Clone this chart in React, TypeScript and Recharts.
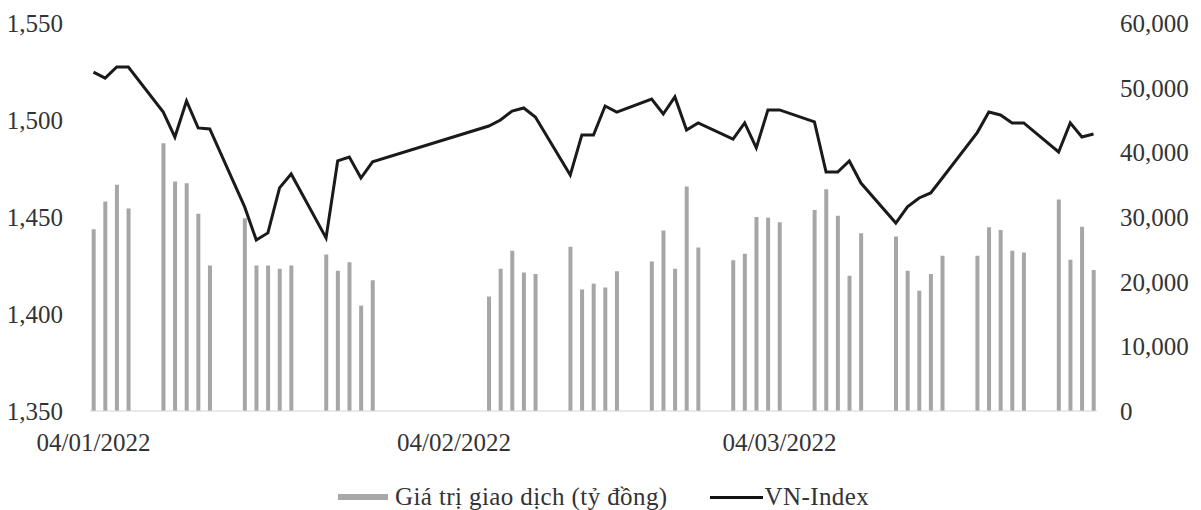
import { Bar, ComposedChart, Legend, Line, XAxis, YAxis } from 'recharts';

// trading days, Q1 2022
const dates = [
  '2022-01-04', '2022-01-05', '2022-01-06', '2022-01-07',
  '2022-01-10', '2022-01-11', '2022-01-12', '2022-01-13', '2022-01-14',
  '2022-01-17', '2022-01-18', '2022-01-19', '2022-01-20', '2022-01-21',
  '2022-01-24', '2022-01-25', '2022-01-26', '2022-01-27', '2022-01-28',
  '2022-02-07', '2022-02-08', '2022-02-09', '2022-02-10', '2022-02-11',
  '2022-02-14', '2022-02-15', '2022-02-16', '2022-02-17', '2022-02-18',
  '2022-02-21', '2022-02-22', '2022-02-23', '2022-02-24', '2022-02-25',
  '2022-02-28', '2022-03-01', '2022-03-02', '2022-03-03', '2022-03-04',
  '2022-03-07', '2022-03-08', '2022-03-09', '2022-03-10', '2022-03-11',
  '2022-03-14', '2022-03-15', '2022-03-16', '2022-03-17', '2022-03-18',
  '2022-03-21', '2022-03-22', '2022-03-23', '2022-03-24', '2022-03-25',
  '2022-03-28', '2022-03-29', '2022-03-30', '2022-03-31',
];

// Giá trị giao dịch (tỷ đồng)
const tradingValue = [
  28100, 32400, 35000, 31300,
  41400, 35500, 35200, 30500, 22500,
  29800, 22500, 22500, 22000, 22500,
  24200, 21700, 23000, 16300, 20200,
  17700, 22000, 24800, 21400, 21200,
  25400, 18800, 19700, 19100, 21600,
  23100, 27900, 22000, 34700, 25300,
  23300, 24300, 30000, 29900, 29200,
  31100, 34300, 30200, 20900, 27500,
  27000, 21700, 18600, 21200, 24000,
  24000, 28400, 28000, 24800, 24500,
  32700, 23400, 28500, 21800,
];

// VN-Index
const vnIndex = [
  1524.7, 1521.6, 1527.3, 1527.3,
  1504.1, 1491.2, 1509.8, 1495.9, 1495.4,
  1455.2, 1438.1, 1441.8, 1465.0, 1472.2,
  1439.2, 1478.9, 1480.9, 1470.1, 1478.4,
  1496.9, 1500.0, 1504.6, 1506.2, 1501.5,
  1471.6, 1492.3, 1492.3, 1507.2, 1504.1,
  1510.8, 1503.1, 1511.9, 1494.8, 1498.5,
  1490.2, 1498.5, 1485.6, 1505.2, 1505.2,
  1499.0, 1473.2, 1473.2, 1478.9, 1467.5,
  1446.9, 1455.2, 1459.8, 1462.4, 1470.1,
  1493.5, 1504.1, 1502.6, 1498.5, 1498.5,
  1483.5, 1498.5, 1491.2, 1492.8,
];

const xTickDates = ['2022-01-04', '2022-02-04', '2022-03-04'];
const leftTicks = [1350, 1400, 1450, 1500, 1550];
const rightTicks = [0, 10000, 20000, 30000, 40000, 50000, 60000];

const START = Date.parse('2022-01-04');
const dayOf = (s: string) => Math.round((Date.parse(s) - START) / 86400000);
const fmtDate = (s: string) => {
  const [y, m, d] = s.split('-');
  return `${d}/${m}/${y}`;
};
const fmtNum = (v: number) => v.toLocaleString('en-US');

const data = dates.map((d, i) => ({
  day: dayOf(d),
  value: tradingValue[i],
  index: vnIndex[i],
}));
const xTicks = xTickDates.map(dayOf);
const tickLabel: Record<number, string> = {};
xTickDates.forEach((d) => (tickLabel[dayOf(d)] = fmtDate(d)));

const FONT = '"Liberation Serif", "Times New Roman", serif';
const tickStyle = { fontSize: 25, fill: '#333', fontFamily: FONT };

function LegendContent() {
  return (
    <div
      style={{
        height: 40,
        display: 'flex',
        alignItems: 'center',
        paddingLeft: 338,
        paddingTop: 14,
        boxSizing: 'border-box',
        fontFamily: FONT,
        fontSize: 25,
        letterSpacing: 0.4,
        color: '#333',
        whiteSpace: 'nowrap',
      }}
    >
      <span style={{ width: 50, height: 6, background: '#a8a8a8', marginRight: 7 }} />
      <span>Giá trị giao dịch (tỷ đồng)</span>
      <span style={{ width: 53, height: 3, background: '#111', marginLeft: 42, marginRight: 2 }} />
      <span>VN-Index</span>
    </div>
  );
}

export default function App() {
  return (
    <div style={{ position: 'absolute', left: 0, top: 0 }}>
      <ComposedChart width={1201} height={510} data={data} margin={{ top: 23, right: 0, bottom: 0, left: 0 }}>
        <XAxis
          dataKey="day"
          type="number"
          domain={[-0.3, 86.3]}
          ticks={xTicks}
          interval={0}
          tickFormatter={(v: number) => tickLabel[v] ?? ''}
          axisLine={{ stroke: '#d4d4d4' }}
          tickLine={false}
          tickSize={0}
          tickMargin={22}
          height={59}
          tick={tickStyle}
        />
        <YAxis
          yAxisId="left"
          orientation="left"
          width={90}
          domain={[1350, 1550]}
          ticks={leftTicks}
          tickFormatter={fmtNum}
          axisLine={false}
          tickLine={false}
          tickSize={0}
          tickMargin={27}
          tick={tickStyle}
        />
        <YAxis
          yAxisId="right"
          orientation="right"
          width={104}
          domain={[0, 60000]}
          ticks={rightTicks}
          tickFormatter={fmtNum}
          axisLine={false}
          tickLine={false}
          tickSize={0}
          tickMargin={23}
          tick={tickStyle}
        />
        <Legend verticalAlign="bottom" height={40} content={<LegendContent />} />
        <Bar yAxisId="right" dataKey="value" barSize={4} fill="#a6a6a6" isAnimationActive={false} />
        <Line
          yAxisId="left"
          dataKey="index"
          type="linear"
          stroke="#1a1a1a"
          strokeWidth={3}
          dot={false}
          isAnimationActive={false}
        />
      </ComposedChart>
    </div>
  );
}
